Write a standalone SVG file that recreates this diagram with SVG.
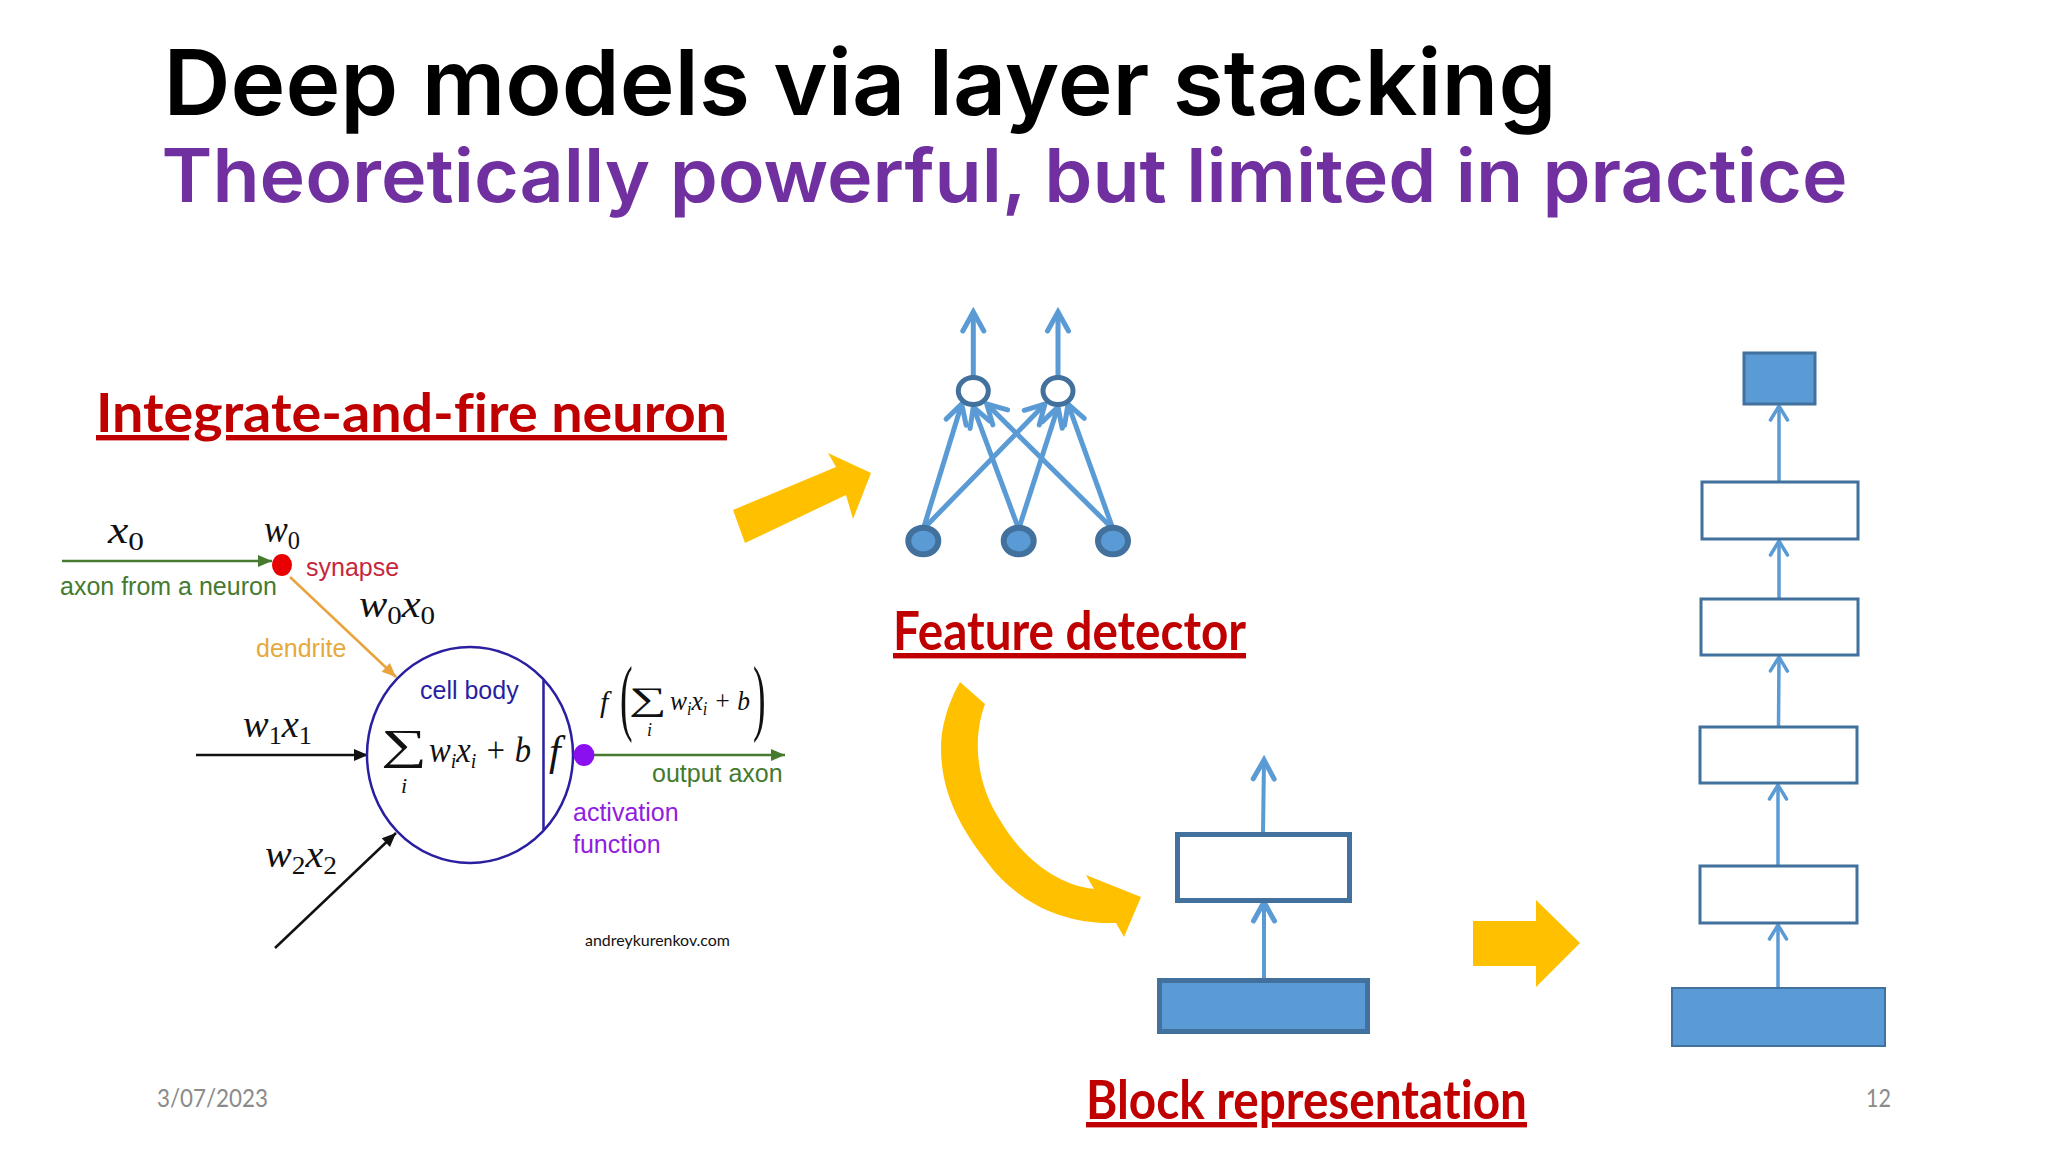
<svg xmlns="http://www.w3.org/2000/svg" width="2048" height="1152" viewBox="0 0 2048 1152">
<style>
text{white-space:pre;font-variant-ligatures:none}
.ti{font-family:Inter,Roboto,"Liberation Sans",sans-serif;font-weight:600}
.hd{font-family:Lato,"Liberation Sans",sans-serif;font-weight:700;font-size:54px;fill:#c00000;text-decoration:underline}
.ft{font-family:Lato,"Liberation Sans",sans-serif;font-size:25px;fill:#8b8b8b}
.lb{font-family:"Liberation Sans",Arial,sans-serif;font-size:25px}
.m{font-family:"Liberation Serif","DejaVu Serif",serif;font-style:italic;fill:#111}
.up{font-family:"Liberation Serif","DejaVu Serif",serif;fill:#111}
.blk{fill:#5b9bd5;stroke:#41719c}
.emp{fill:#fff;stroke:#41719c}
.bl{fill:none;stroke:#5b9bd5;stroke-width:5}
.gold{fill:#ffc000}
</style>
<defs>
<marker id="big" markerUnits="userSpaceOnUse" markerWidth="44" markerHeight="44" refX="30" refY="22" orient="auto"><path d="M11,11.5 L30,22 L11,32.500" fill="none" stroke="#5b9bd5" stroke-width="5" stroke-linecap="round" stroke-linejoin="miter"/></marker>
<marker id="small" markerUnits="userSpaceOnUse" markerWidth="40" markerHeight="40" refX="30" refY="20" orient="auto"><path d="M16,11.5 L30,20 L16,28.500" fill="none" stroke="#5b9bd5" stroke-width="3.500" stroke-linecap="round" stroke-linejoin="miter"/></marker>
<marker id="gr" markerUnits="userSpaceOnUse" markerWidth="24" markerHeight="20" refX="20" refY="10" orient="auto"><path d="M6,4 L20,10 L6,16Z" fill="#457a2f"/></marker>
<marker id="bk" markerUnits="userSpaceOnUse" markerWidth="24" markerHeight="20" refX="20" refY="10" orient="auto"><path d="M6,4 L20,10 L6,16Z" fill="#111"/></marker>
<marker id="or" markerUnits="userSpaceOnUse" markerWidth="24" markerHeight="20" refX="20" refY="10" orient="auto"><path d="M6,4 L20,10 L6,16Z" fill="#e8a33d"/></marker>
</defs>
<rect width="2048" height="1152" fill="#fff"/>
<g id="title">
<text class="ti" x="163.500" y="115" font-size="91" fill="#000" textLength="1393" lengthAdjust="spacingAndGlyphs">Deep models via layer stacking</text>
<text class="ti" x="161.500" y="202" font-size="74" fill="#7030a0" textLength="1686" lengthAdjust="spacingAndGlyphs">Theoretically powerful, but limited in practice</text>
</g>
<g id="headings">
<text id="h-neuron" class="hd" x="96" y="432" textLength="631" lengthAdjust="spacingAndGlyphs">Integrate-and-fire neuron</text>
<text id="h-feature" class="hd" x="893" y="650" textLength="353" lengthAdjust="spacingAndGlyphs">Feature detector</text>
<text id="h-block" class="hd" x="1086" y="1119" textLength="441" lengthAdjust="spacingAndGlyphs">Block representation</text>
</g>
<g id="footer">
<text class="ft" x="157" y="1107" textLength="111" lengthAdjust="spacingAndGlyphs">3/07/2023</text>
<text class="ft" x="1866" y="1107" textLength="25" lengthAdjust="spacingAndGlyphs">12</text>
</g>
<g id="big-arrows" class="gold">
<polygon id="arrow-1" points="733,510 836,467 828,453 871,473 853,519 846,495 745,543"/>
<path id="arrow-2" d="M960,682 L985,704 C970,745 980,790 1000,820 C1020,855 1055,885 1094,889 L1086,875 L1141,897 L1124,937 L1116,923 C1060,925 1015,900 987,862 C958,825 941,790 941,748 C941,728 947,705 960,682Z"/>
<polygon id="arrow-3" points="1473,921 1536,921 1536,900 1580,943 1536,987 1536,966 1473,966"/>
</g>
<g id="neuron">
<g id="neuron-connectors" fill="none" stroke-width="2.500">
<line x1="62" y1="561" x2="272" y2="561" stroke="#457a2f" marker-end="url(#gr)"/>
<line x1="290" y1="577" x2="396" y2="677" stroke="#e8a33d" marker-end="url(#or)"/>
<line x1="196" y1="755" x2="368" y2="755" stroke="#111" marker-end="url(#bk)"/>
<line x1="275" y1="948" x2="396" y2="833" stroke="#111" marker-end="url(#bk)"/>
<line x1="594" y1="755" x2="785" y2="755" stroke="#457a2f" marker-end="url(#gr)"/>
</g>
<g id="cell-body">
<ellipse cx="470" cy="755" rx="103" ry="108" fill="none" stroke="#2a1fa0" stroke-width="2.500"/>
<line x1="543.500" y1="680" x2="543.500" y2="830" stroke="#2a1fa0" stroke-width="2.500"/>
<text class="lb" x="420" y="699" fill="#2a1fa0">cell body</text>
<text class="up" transform="translate(381 759) scale(1.5 1)" font-size="43">∑</text>
<text class="m" x="401" y="793" font-size="22">i</text>
<text class="m" x="429" y="762" font-size="36" textLength="102" lengthAdjust="spacingAndGlyphs">w<tspan font-size="22" dy="6">i</tspan><tspan dy="-6">x</tspan><tspan font-size="22" dy="6">i</tspan><tspan dy="-6"> + b</tspan></text>
<text class="m" x="549" y="765" font-size="42">f</text>
</g>
<g id="synapse">
<ellipse cx="282" cy="565" rx="10" ry="11" fill="#e90000"/>
<text class="lb" x="306" y="576" fill="#c5283d">synapse</text>
</g>
<g id="activation">
<ellipse cx="584" cy="755" rx="10.500" ry="11" fill="#8b10f0"/>
<text class="lb" x="573" y="821" fill="#9020e0">activation</text>
<text class="lb" x="573" y="853" fill="#9020e0">function</text>
</g>
<text class="lb" x="60" y="595" fill="#457a2f">axon from a neuron</text>
<text class="lb" x="256" y="657" fill="#e5a93c">dendrite</text>
<text class="lb" x="652" y="782" fill="#457a2f">output axon</text>
<text class="m" x="108" y="543" font-size="38" textLength="36" lengthAdjust="spacingAndGlyphs">x<tspan font-size="26" dy="7" font-style="normal">0</tspan></text>
<text class="m" x="264" y="542" font-size="38" textLength="36" lengthAdjust="spacingAndGlyphs">w<tspan font-size="26" dy="7" font-style="normal">0</tspan></text>
<text class="m" x="359" y="617" font-size="38" textLength="76" lengthAdjust="spacingAndGlyphs">w<tspan font-size="26" dy="7" font-style="normal">0</tspan><tspan dy="-7">x</tspan><tspan font-size="26" dy="7" font-style="normal">0</tspan></text>
<text class="m" x="243" y="737" font-size="38" textLength="69" lengthAdjust="spacingAndGlyphs">w<tspan font-size="26" dy="7" font-style="normal">1</tspan><tspan dy="-7">x</tspan><tspan font-size="26" dy="7" font-style="normal">1</tspan></text>
<text class="m" x="265" y="867" font-size="38" textLength="72" lengthAdjust="spacingAndGlyphs">w<tspan font-size="26" dy="7" font-style="normal">2</tspan><tspan dy="-7">x</tspan><tspan font-size="26" dy="7" font-style="normal">2</tspan></text>
<g id="output-formula">
<text class="m" x="600" y="712" font-size="30">f</text>
<text class="up" transform="translate(620 725) scale(.45 1)" font-size="84">(</text>
<text class="up" transform="translate(629 709.500) scale(1.6 1)" font-size="33">∑</text>
<text class="m" x="647" y="736" font-size="18">i</text>
<text class="m" x="670" y="710" font-size="28" textLength="80" lengthAdjust="spacingAndGlyphs">w<tspan font-size="18" dy="5">i</tspan><tspan dy="-5">x</tspan><tspan font-size="18" dy="5">i</tspan><tspan dy="-5"> + b</tspan></text>
<text class="up" transform="translate(753 725) scale(.45 1)" font-size="84">)</text>
</g>
<text x="585" y="946" font-family="Lato,'Liberation Sans',sans-serif" font-size="16" fill="#111" textLength="145" lengthAdjust="spacingAndGlyphs">andreykurenkov.com</text>
</g>
<g id="connectors">
<g class="bl">
<line x1="973.300" y1="378" x2="973.300" y2="312" marker-end="url(#big)"/>
<line x1="1058" y1="378" x2="1058" y2="312" marker-end="url(#big)"/>
<line x1="923.300" y1="529" x2="961.700" y2="404" marker-end="url(#big)"/>
<line x1="923.300" y1="529" x2="1045" y2="404" marker-end="url(#big)"/>
<line x1="1018.700" y1="529" x2="973.300" y2="407" marker-end="url(#big)"/>
<line x1="1018.700" y1="529" x2="1058" y2="407" marker-end="url(#big)"/>
<line x1="1113" y1="529" x2="986.700" y2="404" marker-end="url(#big)"/>
<line x1="1113" y1="529" x2="1068" y2="404" marker-end="url(#big)"/>
<g style="stroke-width:4"><line x1="1263" y1="834" x2="1264" y2="760" marker-end="url(#big)"/>
<line x1="1264" y1="978" x2="1264" y2="902" marker-end="url(#big)"/></g>
</g>
<g class="bl" style="stroke-width:3.500">
<line x1="1779" y1="481" x2="1779" y2="406" marker-end="url(#small)"/>
<line x1="1779" y1="598" x2="1779" y2="541" marker-end="url(#small)"/>
<line x1="1778.500" y1="726" x2="1779" y2="657" marker-end="url(#small)"/>
<line x1="1778" y1="865" x2="1778" y2="785" marker-end="url(#small)"/>
<line x1="1778" y1="987" x2="1778" y2="925" marker-end="url(#small)"/>
</g>
</g>
<g id="feature-detector" stroke-width="5">
<ellipse id="out-1" class="emp" cx="973.300" cy="391" rx="15" ry="13.500"/>
<ellipse id="out-2" class="emp" cx="1058" cy="391" rx="15" ry="13.500"/>
<g style="stroke-width:6">
<ellipse id="in-1" class="blk" cx="923.300" cy="541" rx="15" ry="13.300"/>
<ellipse id="in-2" class="blk" cx="1018.700" cy="541" rx="15" ry="13.300"/>
<ellipse id="in-3" class="blk" cx="1113" cy="541" rx="15" ry="13.300"/>
</g>
</g>
<g id="block-representation" stroke-width="5">
<rect id="block-top" class="emp" x="1177.500" y="834.500" width="172" height="66"/>
<rect id="block-bottom" class="blk" x="1159.500" y="980.500" width="208" height="51"/>
</g>
<g id="stack" stroke-width="3">
<rect id="s-out" class="blk" x="1744" y="353" width="71" height="51"/>
<rect id="s-4" class="emp" x="1702" y="482" width="156" height="57"/>
<rect id="s-3" class="emp" x="1701" y="599" width="157" height="56"/>
<rect id="s-2" class="emp" x="1700" y="727" width="157" height="56"/>
<rect id="s-1" class="emp" x="1700" y="866" width="157" height="57"/>
<rect id="s-in" class="blk" style="stroke-width:2" x="1672" y="988" width="213" height="58"/>
</g>
</svg>
